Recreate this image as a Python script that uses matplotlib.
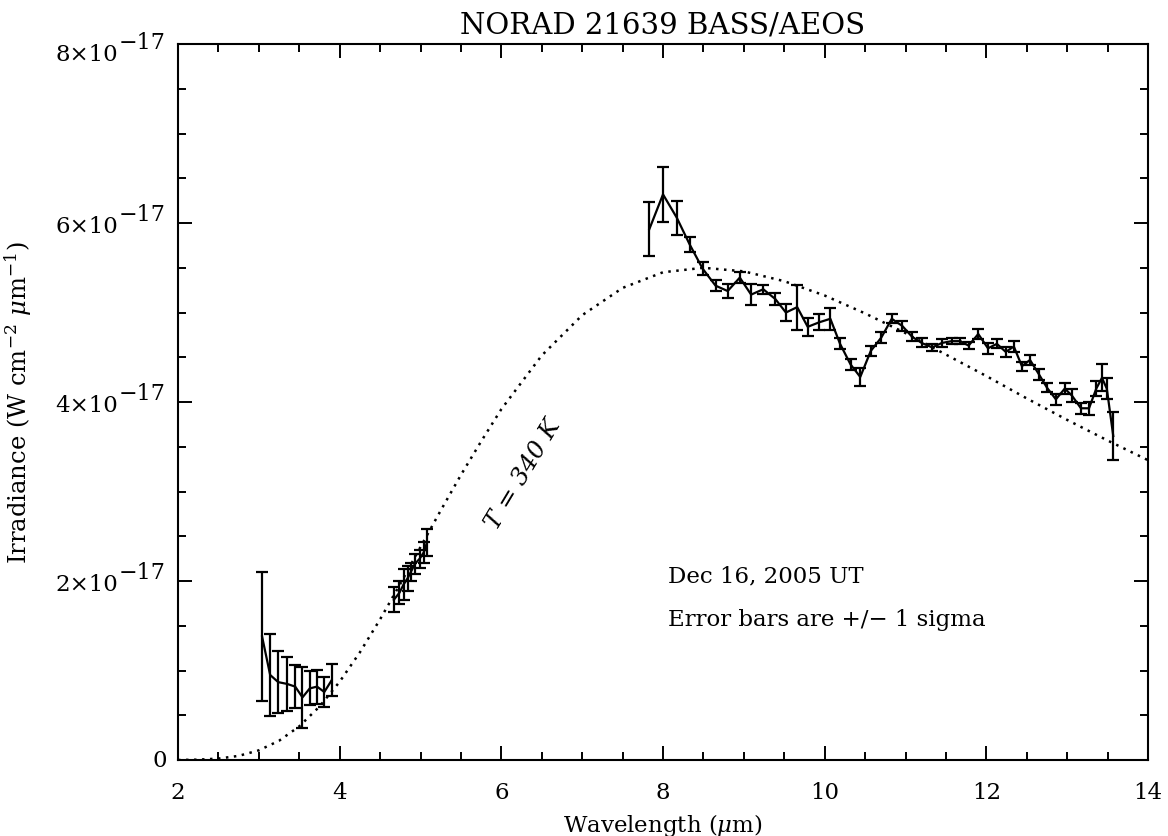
import matplotlib.pyplot as plt
from matplotlib.ticker import MultipleLocator, NullFormatter

plt.rcParams['font.family'] = ['DejaVu Serif']
plt.rcParams['mathtext.fontset'] = 'dejavuserif'

# irradiance in units of 1e-17 W cm^-2 um^-1
wl_a = [3.04, 3.14, 3.24, 3.35, 3.45, 3.54, 3.63, 3.72, 3.81, 3.90]
flux_a = [1.38, 0.95, 0.87, 0.85, 0.82, 0.70, 0.80, 0.82, 0.76, 0.89]
err_a = [0.72, 0.46, 0.35, 0.30, 0.24, 0.34, 0.19, 0.19, 0.17, 0.18]

wl_b = [4.67, 4.74, 4.79, 4.84, 4.88, 4.93, 4.99, 5.04, 5.08]
flux_b = [1.79, 1.87, 1.96, 2.03, 2.10, 2.19, 2.25, 2.32, 2.43]
err_b = [0.14, 0.13, 0.17, 0.14, 0.10, 0.11, 0.10, 0.12, 0.15]

wl_c = [7.83, 8.00, 8.17, 8.33, 8.49, 8.65, 8.80, 8.95, 9.09, 9.24,
        9.39, 9.52, 9.66, 9.79, 9.93, 10.07, 10.19, 10.32, 10.44, 10.57,
        10.70, 10.83, 10.96, 11.08, 11.20, 11.33, 11.45, 11.57, 11.68, 11.78,
        11.90, 12.02, 12.13, 12.24, 12.34, 12.44, 12.54, 12.65, 12.75, 12.86,
        12.97, 13.06, 13.17, 13.27, 13.36, 13.43, 13.49, 13.57]
flux_c = [5.93, 6.32, 6.06, 5.76, 5.49, 5.30, 5.24, 5.39, 5.20, 5.26,
          5.15, 5.00, 5.06, 4.84, 4.89, 4.93, 4.65, 4.42, 4.28, 4.57,
          4.72, 4.93, 4.85, 4.73, 4.66, 4.61, 4.66, 4.68, 4.68, 4.63,
          4.76, 4.60, 4.65, 4.56, 4.62, 4.40, 4.47, 4.31, 4.16, 4.03,
          4.15, 4.07, 3.93, 3.93, 4.15, 4.27, 4.15, 3.62]
err_c = [0.30, 0.31, 0.19, 0.08, 0.07, 0.06, 0.08, 0.06, 0.12, 0.05,
         0.07, 0.10, 0.25, 0.10, 0.09, 0.12, 0.06, 0.06, 0.10, 0.06,
         0.06, 0.05, 0.06, 0.05, 0.05, 0.04, 0.04, 0.03, 0.03, 0.04,
         0.06, 0.06, 0.05, 0.06, 0.06, 0.05, 0.06, 0.06, 0.05, 0.06,
         0.06, 0.07, 0.06, 0.07, 0.08, 0.15, 0.12, 0.27]

# T = 340 K curve
bb_wl = [2.0, 2.25, 2.5, 2.75, 3.0, 3.25, 3.5, 3.75, 4.0, 4.25, 4.5, 4.75,
         5.0, 5.25, 5.5, 5.75, 6.0, 6.5, 7.0, 7.5, 8.0, 8.5, 9.0, 9.5,
         10.0, 10.5, 11.0, 11.5, 12.0, 12.5, 13.0, 13.5, 14.0]
bb_flux = [0.0, 0.004, 0.016, 0.046, 0.108, 0.215, 0.376, 0.597, 0.875, 1.203,
           1.572, 1.969, 2.38, 2.788, 3.185, 3.56, 3.92, 4.52, 4.97, 5.275,
           5.45, 5.50, 5.46, 5.35, 5.19, 4.99, 4.77, 4.53, 4.29, 4.04,
           3.80, 3.57, 3.35]

ytick_vals = [0, 2, 4, 6, 8]
ytick_mant = ["0", "2\u00d710", "4\u00d710", "6\u00d710", "8\u00d710"]
ytick_exp = ["", "\u221217", "\u221217", "\u221217", "\u221217"]
xtick_vals = [2, 4, 6, 8, 10, 12, 14]

fig = plt.figure(figsize=(11.68, 8.37), dpi=100)
ax = fig.add_axes([0.1524, 0.0908, 0.8305, 0.8554])

ax.plot(bb_wl, bb_flux, color="black", lw=1.8, linestyle=(0, (1, 2.2)))

for wl, fl, er in [(wl_a, flux_a, err_a), (wl_b, flux_b, err_b), (wl_c, flux_c, err_c)]:
    ax.errorbar(wl, fl, yerr=er, color="black", lw=1.6, elinewidth=1.6,
                capsize=4, capthick=1.6)

ax.set_xlim(2, 14)
ax.set_ylim(0, 8)
ax.set_xticks(xtick_vals)
ax.set_xticklabels([str(v) for v in xtick_vals])
ax.set_yticks(ytick_vals)
ax.yaxis.set_major_formatter(NullFormatter())
ax.xaxis.set_minor_locator(MultipleLocator(0.5))
ax.yaxis.set_minor_locator(MultipleLocator(0.5))
ax.tick_params(which="both", direction="in", top=True, right=True, width=1.4)
ax.tick_params(which="major", length=10, labelsize=16.5)
ax.tick_params(which="minor", length=5.5)
ax.tick_params(axis="x", which="major", pad=15)
for s in ax.spines.values():
    s.set_linewidth(1.5)

# y tick labels with full-size exponents
ytrans = ax.get_yaxis_transform()
for v, m, e in zip(ytick_vals, ytick_mant, ytick_exp):
    if not e:
        ax.annotate(m, xy=(0, v), xycoords=ytrans, xytext=(-11, 0),
                    textcoords="offset pixels", ha="right", va="center", fontsize=16.5)
        continue
    dy = -7 if v == ytick_vals[-1] else 0
    ax.annotate(m, xy=(0, v), xycoords=ytrans, xytext=(-60, -3 + dy),
                textcoords="offset pixels", ha="right", va="center", fontsize=16.5)
    ax.annotate(e, xy=(0, v), xycoords=ytrans, xytext=(-59, 9 + dy),
                textcoords="offset pixels", ha="left", va="center", fontsize=16)

ax.set_xlabel(r"Wavelength ($\mu$m)", fontsize=16.5, labelpad=6)
ax.set_ylabel(r"Irradiance (W cm$^{-2}$ $\mu$m$^{-1}$)", fontsize=17.5)
ax.yaxis.set_label_coords(-0.148, 0.5)
ax.set_title("NORAD 21639 BASS/AEOS", fontsize=21, pad=8)

ax.text(6.27, 3.2, "T = 340 K", fontsize=17.5, style="italic", rotation=59,
        ha="center", va="center")
ax.text(8.06, 2.06, "Dec 16, 2005 UT", fontsize=16.5, ha="left", va="center")
ax.text(8.06, 1.58, "Error bars are +/\u2212 1 sigma", fontsize=16.5,
        ha="left", va="center")

fig.savefig("out.png", dpi=100)
